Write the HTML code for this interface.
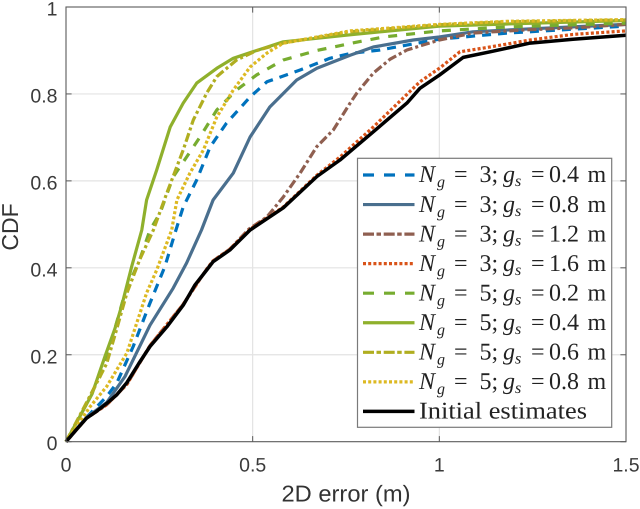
<!DOCTYPE html>
<html>
<head>
<meta charset="utf-8">
<title>CDF of 2D error</title>
<style>
html,body{margin:0;padding:0;background:#fff;}
svg{display:block;text-rendering:geometricPrecision;}
.tick{font-family:"Liberation Sans",sans-serif;font-size:19.5px;fill:#3a3a3a;}
.axt{font-family:"Liberation Sans",sans-serif;font-size:23px;fill:#333;}
.leg{font-family:"Liberation Serif",serif;font-size:24px;fill:#222;}
.leg .i{font-style:italic;}
.leg .s{font-style:italic;font-size:16px;}
</style>
</head>
<body>
<svg id="chart" xmlns="http://www.w3.org/2000/svg" width="640" height="509" viewBox="0 0 640 509">
<g id="grid"></g>
<g id="series"></g>
<g id="axes"></g>
<text class="axt" x="281.5" y="501.5" textLength="129" lengthAdjust="spacingAndGlyphs">2D error (m)</text>
<text class="axt" transform="translate(18,227) rotate(-90)" text-anchor="middle">CDF</text>
<g id="legend"></g>
</svg>
<script>
// Tick labels
const xTicks = [0, 0.5, 1, 1.5];
const xTickLabels = ['0', '0.5', '1', '1.5'];
const yTicks = [0, 0.2, 0.4, 0.6, 0.8, 1];
const yTickLabels = ['0', '0.2', '0.4', '0.6', '0.8', '1'];

// Series values
const errN3G04 = [0, .055, .109, .136, .18, .225, .265, .292, .314, .35, .386, .43, .493, .538, .627, .707, .761, .841, 1, 1.18, 1.358, 1.5];
const cdfN3G04 = [0, .056, .104, .135, .219, .319, .403, .48, .54, .602, .678, .733, .793, .828, .855, .882, .893, .901, .926, .94, .949, .956];
const errN3G08 = [0, .055, .109, .158, .225, .287, .323, .363, .394, .448, .493, .546, .618, .672, .761, .823, .93, 1, 1.09, 1.224, 1.5];
const cdfN3G08 = [0, .056, .09, .15, .268, .353, .411, .487, .556, .618, .701, .77, .832, .859, .889, .908, .924, .931, .943, .949, .96];
const errN3G12 = [0, .055, .109, .163, .225, .314, .377, .394, .439, .49, .538, .582, .627, .672, .716, .761, .779, .823, .868, .913, 1, 1.09, 1.224, 1.358, 1.5];
const cdfN3G12 = [0, .054, .085, .132, .221, .316, .397, .416, .443, .489, .517, .563, .618, .679, .717, .779, .802, .848, .88, .901, .924, .94, .947, .952, .96];
const errN3G16 = [0, .055, .109, .163, .225, .314, .377, .394, .439, .493, .582, .672, .734, .823, .948, 1, 1.055, 1.136, 1.243, 1.358, 1.5];
const cdfN3G16 = [0, .054, .085, .132, .221, .316, .397, .416, .443, .489, .54, .613, .655, .724, .828, .859, .897, .908, .924, .937, .945];
const errN5G02 = [0, .05, .091, .104, .131, .158, .198, .225, .252, .287, .323, .359, .404, .457, .511, .582, .672, .761, .85, 1, 1.18, 1.5];
const cdfN5G02 = [0, .08, .15, .18, .26, .342, .42, .487, .526, .609, .655, .701, .763, .809, .844, .878, .9, .916, .931, .945, .954, .963];
const errN5G04 = [0, .035, .07, .104, .131, .149, .176, .203, .216, .243, .279, .314, .35, .404, .448, .5, .582, .761, 1, 1.18, 1.5];
const cdfN5G04 = [0, .055, .11, .195, .26, .312, .403, .487, .556, .625, .724, .779, .825, .859, .882, .897, .92, .936, .956, .961, .969];
const errN5G06 = [0, .055, .109, .136, .163, .198, .234, .27, .314, .341, .377, .404, .457, .511, .582, .761, 1, 1.18, 1.5];
const cdfN5G06 = [0, .09, .18, .26, .342, .42, .487, .572, .671, .74, .802, .84, .878, .9, .917, .943, .959, .966, .97];
const errN5G08 = [0, .064, .109, .163, .216, .243, .283, .297, .332, .368, .404, .448, .493, .538, .582, .761, 1, 1.18, 1.5];
const cdfN5G08 = [0, .08, .127, .204, .342, .395, .487, .556, .618, .671, .747, .809, .862, .894, .917, .945, .96, .967, .971];
const errInitial = [0, .03, .055, .082, .109, .136, .163, .195, .225, .27, .314, .345, .377, .394, .439, .493, .582, .672, .734, .823, .913, .948, 1, 1.064, 1.136, 1.243, 1.358, 1.5];
const cdfInitial = [0, .03, .054, .07, .088, .108, .136, .18, .219, .264, .314, .36, .395, .414, .441, .487, .538, .61, .648, .713, .779, .813, .843, .884, .897, .917, .926, .935];

// Legend values
const legendGroups = [3, 3, 3, 3, 5, 5, 5, 5];
const legendSpacings = ['0.4', '0.8', '1.2', '1.6', '0.2', '0.4', '0.6', '0.8'];
const initialLabel = 'Initial estimates';

const seriesX = [errN3G04, errN3G08, errN3G12, errN3G16, errN5G02, errN5G04, errN5G06, errN5G08, errInitial];
const seriesY = [cdfN3G04, cdfN3G08, cdfN3G12, cdfN3G16, cdfN5G02, cdfN5G04, cdfN5G06, cdfN5G08, cdfInitial];
const seriesIds = ['n3-g04', 'n3-g08', 'n3-g12', 'n3-g16', 'n5-g02', 'n5-g04', 'n5-g06', 'n5-g08', 'initial'];
const seriesColors = ['#0072BD', '#4A6F8E', '#8F5F50', '#D95319', '#77AC30', '#8FB02C', '#B0AE20', '#DDB922', '#000000'];
const seriesDashes = ['9 7', '', '9 3 3 3', '3 2.2', '9 9', '', '9 3 3 3', '3 2.2', ''];
const swatchDashes = ['11 10', '', '11 2.5 4.5 2.7', '3 2.2', '11 10', '', '11 2.5 4.5 2.7', '3 2.2', ''];

const NS = 'http://www.w3.org/2000/svg';
const plotLeft = 66, plotRight = 626, plotTop = 7, plotBottom = 441.7;
function xScale(v) { return plotLeft + (v / 1.5) * (plotRight - plotLeft); }
function yScale(v) { return plotBottom - v * (plotBottom - plotTop); }
function make(tag, attrs, parent) {
  const el = document.createElementNS(NS, tag);
  for (const k in attrs) el.setAttribute(k, attrs[k]);
  parent.appendChild(el);
  return el;
}
const gridG = document.getElementById('grid');
const axesG = document.getElementById('axes');
const seriesG = document.getElementById('series');
const legendG = document.getElementById('legend');

// Grid
xTicks.forEach(function (t) {
  if (t === 0 || t === 1.5) return;
  const l = make('line', { x1: xScale(t), x2: xScale(t), y1: plotTop, y2: plotBottom, stroke: '#e3e3e3', 'stroke-width': 1.2 }, gridG);
  
  
});
yTicks.forEach(function (t) {
  if (t === 0 || t === 1) return;
  const l = make('line', { x1: plotLeft, x2: plotRight, y1: yScale(t), y2: yScale(t), stroke: '#e3e3e3', 'stroke-width': 1.2 }, gridG);
  
  
});

// Series
seriesX.forEach(function (xs, i) {
  const pts = xs.map(function (x, j) { return xScale(x).toFixed(1) + ',' + yScale(seriesY[i][j]).toFixed(1); }).join(' ');
  const p = make('polyline', { points: pts, fill: 'none', stroke: seriesColors[i], 'stroke-width': i === 8 ? 3.5 : 3.2, 'stroke-linejoin': 'round' }, seriesG);
  if (seriesDashes[i]) p.setAttribute('stroke-dasharray', seriesDashes[i]);
  
  
});

// Axes box, ticks, labels
const box = make('rect', { x: plotLeft, y: plotTop, width: plotRight - plotLeft, height: plotBottom - plotTop, fill: 'none', stroke: '#5a5a5a', 'stroke-width': 1.1 }, axesG);


xTicks.forEach(function (t, i) {
  const px = xScale(t);
  const a = make('line', { x1: px, x2: px, y1: plotBottom, y2: plotBottom - 5.6, stroke: '#5a5a5a', 'stroke-width': 1 }, axesG);
  
  
  const b = make('line', { x1: px, x2: px, y1: plotTop, y2: plotTop + 5.6, stroke: '#5a5a5a', 'stroke-width': 1 }, axesG);
  
  
  const lab = make('text', { x: px, y: 471.7, 'text-anchor': 'middle', class: 'tick' }, axesG);
  lab.textContent = xTickLabels[i];
  
  
});
yTicks.forEach(function (t, i) {
  const py = yScale(t);
  const a = make('line', { x1: plotLeft, x2: plotLeft + 5.6, y1: py, y2: py, stroke: '#5a5a5a', 'stroke-width': 1 }, axesG);
  
  
  const b = make('line', { x1: plotRight, x2: plotRight - 5.6, y1: py, y2: py, stroke: '#5a5a5a', 'stroke-width': 1 }, axesG);
  
  
  const lab = make('text', { x: 57.5, y: py + 8.5, 'text-anchor': 'end', class: 'tick' }, axesG);
  lab.textContent = yTickLabels[i];
  
  
});

// Legend
const legendBox = make('rect', { x: 357.5, y: 158.3, width: 254.2, height: 269, fill: '#fff', stroke: '#7a7a7a', 'stroke-width': 1.2 }, legendG);


function addTspan(parent, x, dy, cls, str) {
  const t = make('tspan', { x: x, dy: dy }, parent);
  if (cls) t.setAttribute('class', cls);
  t.textContent = str;
}
seriesIds.forEach(function (id, i) {
  const rowY = 175 + i * 29.55;
  const isInitial = i === 8;
  const sw = make('line', { x1: 363, x2: 414.5, y1: rowY, y2: rowY, stroke: seriesColors[i], 'stroke-width': i === 8 ? 3.5 : 3.2 }, legendG);
  if (swatchDashes[i]) sw.setAttribute('stroke-dasharray', swatchDashes[i]);
  
  
  const txt = make('text', { x: 419, y: rowY + 7.2, class: 'leg' }, legendG);
  
  
  if (isInitial) {
    txt.textContent = initialLabel;
    txt.setAttribute('textLength', '168');
    txt.setAttribute('lengthAdjust', 'spacingAndGlyphs');
  } else {
    addTspan(txt, 419, 0, 'i', 'N');
    addTspan(txt, 437, 5, 's', 'g');
    addTspan(txt, 454, -5, '', '=');
    addTspan(txt, 479.5, 0, '', legendGroups[i] + ';');
    addTspan(txt, 503, 0, 'i', 'g');
    addTspan(txt, 515, 4, 's', 's');
    addTspan(txt, 531, -4, '', '=');
    addTspan(txt, 549, 0, '', legendSpacings[i]);
    addTspan(txt, 587.5, 0, '', 'm');
  }
});
</script>
</body>
</html>
